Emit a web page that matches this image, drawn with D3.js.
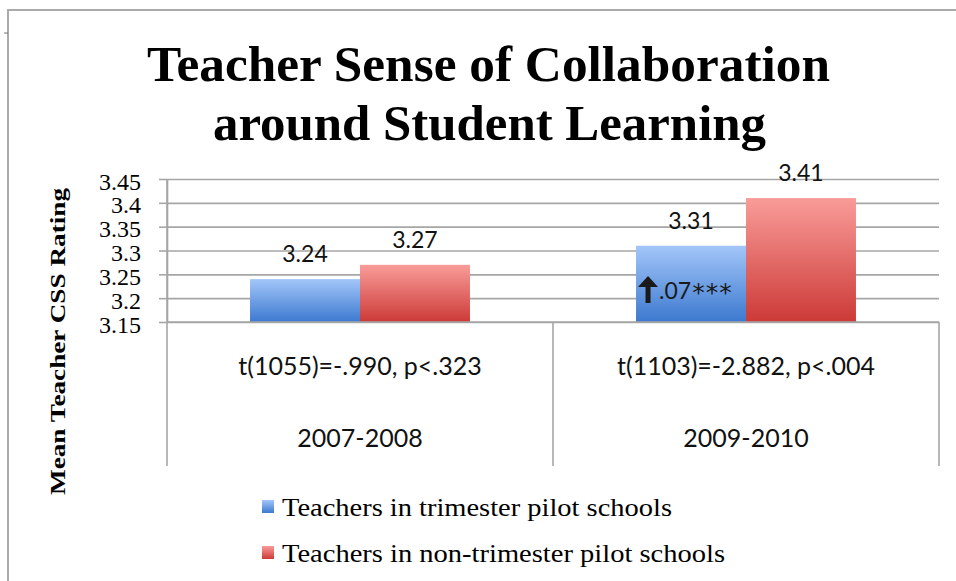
<!DOCTYPE html>
<html>
<head>
<meta charset="utf-8">
<script src="https://cdn.jsdelivr.net/npm/d3@7"></script>
<style>
  body { margin: 0; background: #fff; }
  svg { display: block; }
</style>
</head>
<body>
<svg id="chart" width="956" height="581"></svg>
<script>
const categories = ['2007-2008', '2009-2010']
const seriesNames = ['Teachers in trimester pilot schools', 'Teachers in non-trimester pilot schools']
const trimesterValues = [3.24, 3.31]
const nonTrimesterValues = [3.27, 3.41]
const statLabels = ['t(1055)=-.990, p<.323', 't(1103)=-2.882, p<.004']
const yTicks = [3.15, 3.2, 3.25, 3.3, 3.35, 3.4, 3.45]
const titleLines = ['Teacher Sense of Collaboration', 'around Student Learning']
const yTitle = 'Mean Teacher CSS Rating'
const gainNote = ['.07', '***']

const svg = d3.select('#chart')
const gridColor = '#a6a6a6'
const serif = '"Liberation Serif", "DejaVu Serif", serif'
const sans = 'Lato, "Open Sans", sans-serif'

// gradients for bars / legend swatches
const defs = svg.append('defs')
const gradients = [['blueGrad', '#a3c6f9', '#3c79cf'], ['redGrad', '#f99c99', '#cc3a37']]
gradients.forEach(([id, top, bottom]) => {
    const g = defs.append('linearGradient').attr('id', id)
        .attr('x1', 0).attr('y1', 0).attr('x2', 0).attr('y2', 1)
    g.append('stop').attr('offset', '0%').attr('stop-color', top)
    g.append('stop').attr('offset', '100%').attr('stop-color', bottom)
})
const fills = ['url(#blueGrad)', 'url(#redGrad)']

// outer frame (only top and left visible in the crop)
svg.append('path')
    .attr('d', 'M8,581V10H956')
    .attr('fill', 'none')
    .attr('stroke', '#aaa')
    .attr('stroke-width', 2)
svg.append('line').attr('x1', 4).attr('x2', 8).attr('y1', 33).attr('y2', 33)
    .attr('stroke', '#777').attr('stroke-width', 1)

// title
svg.selectAll('text.title')
    .data(titleLines)
    .join('text')
    .classed('title', true)
    .attr('x', (d, i) => i === 0 ? 488.5 : 489.5)
    .attr('y', (d, i) => 81 + i * 59)
    .attr('text-anchor', 'middle')
    .style('font-family', serif)
    .style('font-weight', 'bold')
    .style('font-size', '50px')
    .attr('textLength', (d, i) => i === 0 ? 683 : 553)
    .attr('lengthAdjust', 'spacingAndGlyphs')
    .text(d => d)

const plotLeft = 167, plotRight = 939, plotTop = 179, plotBottom = 322, tableBottom = 466

const x0 = d3.scaleBand()
    .domain(categories)
    .range([plotLeft, plotRight])
    .padding(0)

const x1 = d3.scaleBand()
    .domain(seriesNames)
    .range([0, x0.bandwidth()])
    .paddingInner(0)
    .paddingOuter(0.755)

const y = d3.scaleLinear()
    .domain([3.15, 3.45])
    .range([plotBottom, plotTop])

// gridlines
svg.append('g')
    .attr('transform', `translate(${plotLeft},0)`)
    .call(d3.axisLeft(y).tickValues(yTicks).tickSize(-(plotRight - plotLeft)).tickFormat(''))
    .call(g => g.select('.domain').remove())
    .call(g => g.selectAll('line').attr('stroke', gridColor).attr('stroke-width', 1.6))

// y axis with ticks and labels
svg.append('g')
    .attr('transform', `translate(${plotLeft},0)`)
    .call(d3.axisLeft(y).tickValues(yTicks).tickSize(8).tickSizeOuter(0).tickPadding(18)
        .tickFormat(d => String(+d.toFixed(2))))
    .call(g => g.select('.domain').attr('stroke', gridColor).attr('stroke-width', 1.6))
    .call(g => g.selectAll('line').attr('stroke', gridColor).attr('stroke-width', 1.6))
    .call(g => g.selectAll('text')
        .style('font-family', serif)
        .style('font-size', '24px')
        .attr('fill', '#000')
        .attr('dy', '0.42em'))

// bars
const rows = categories.map((c, i) => ({
    category: c,
    values: [trimesterValues[i], nonTrimesterValues[i]]
}))

const groups = svg.selectAll('g.cat')
    .data(rows)
    .join('g')
    .classed('cat', true)
    .attr('transform', d => `translate(${x0(d.category)},0)`)

groups.selectAll('rect')
    .data(d => d.values.map((v, j) => ({ series: seriesNames[j], value: v, j })))
    .join('rect')
    .attr('x', d => x1(d.series))
    .attr('y', d => y(d.value))
    .attr('width', x1.bandwidth())
    .attr('height', d => y(3.15) - y(d.value))
    .attr('fill', d => fills[d.j])

groups.selectAll('text.value')
    .data(d => d.values.map((v, j) => ({ series: seriesNames[j], value: v })))
    .join('text')
    .classed('value', true)
    .attr('x', d => x1(d.series) + x1.bandwidth() / 2)
    .attr('y', d => y(d.value) - 17)
    .attr('text-anchor', 'middle')
    .style('font-family', sans)
    .style('font-size', '23px')
    .attr('fill', '#111')
    .text(d => d.value.toFixed(2))

// category table below the plot
const table = svg.append('g')
table.append('line')
    .attr('x1', plotLeft).attr('x2', plotRight)
    .attr('y1', plotBottom).attr('y2', plotBottom)
    .attr('stroke', gridColor).attr('stroke-width', 1.6)
table.selectAll('line.sep')
    .data([plotLeft, x0(categories[1]), plotRight])
    .join('line')
    .classed('sep', true)
    .attr('x1', d => d).attr('x2', d => d)
    .attr('y1', (d, i) => i === 0 ? plotTop : plotBottom)
    .attr('y2', tableBottom)
    .attr('stroke', gridColor).attr('stroke-width', 1.6)

table.selectAll('text.stat')
    .data(statLabels)
    .join('text')
    .classed('stat', true)
    .attr('x', (d, i) => x0(categories[i]) + x0.bandwidth() / 2)
    .attr('y', 375)
    .attr('text-anchor', 'middle')
    .style('font-family', sans)
    .style('font-size', '25px')
    .attr('fill', '#111')
    .text(d => d)

table.selectAll('text.cat')
    .data(categories)
    .join('text')
    .classed('cat', true)
    .attr('x', d => x0(d) + x0.bandwidth() / 2)
    .attr('y', 447)
    .attr('text-anchor', 'middle')
    .style('font-family', sans)
    .style('font-size', '25px')
    .attr('fill', '#111')
    .text(d => d)

// gain annotation inside the 2009-2010 trimester bar
const noteX = x0(categories[1]) + x1(seriesNames[0])
const noteBase = 299
const arrow = d3.path()
arrow.moveTo(noteX + 2, noteBase - 12)
arrow.lineTo(noteX + 12, noteBase - 23)
arrow.lineTo(noteX + 22, noteBase - 12)
arrow.lineTo(noteX + 14.5, noteBase - 12)
arrow.lineTo(noteX + 14.5, noteBase + 4)
arrow.lineTo(noteX + 9.5, noteBase + 4)
arrow.lineTo(noteX + 9.5, noteBase - 12)
arrow.closePath()
svg.append('path').attr('d', arrow.toString()).attr('fill', '#1a1a1a')
const note = svg.append('text')
    .attr('x', noteX + 23)
    .attr('y', noteBase)
    .style('font-family', sans)
    .style('font-size', '23px')
    .attr('fill', '#1a1a1a')
note.append('tspan').text(gainNote[0])
note.append('tspan')
    .attr('dx', 1)
    .attr('dy', 2)
    .style('font-family', '"DejaVu Sans", sans-serif')
    .style('font-size', '25px')
    .style('letter-spacing', '1px')
    .text(gainNote[1])

// y axis title
svg.append('text')
    .attr('transform', `translate(65,${(188 + 495) / 2}) rotate(-90)`)
    .attr('text-anchor', 'middle')
    .style('font-family', serif)
    .style('font-weight', 'bold')
    .style('font-size', '22px')
    .attr('textLength', 307)
    .attr('lengthAdjust', 'spacingAndGlyphs')
    .text(yTitle)

// legend
const legend = svg.selectAll('g.legend')
    .data(seriesNames)
    .join('g')
    .classed('legend', true)
    .attr('transform', (d, i) => `translate(262,${500 + i * 46})`)

legend.append('rect')
    .attr('width', 12).attr('height', 13)
    .attr('fill', (d, i) => fills[i])

legend.append('text')
    .attr('x', 20)
    .attr('y', 16)
    .style('font-family', serif)
    .style('font-size', '25px')
    .attr('fill', '#000')
    .attr('textLength', (d, i) => i === 0 ? 390 : 443)
    .attr('lengthAdjust', 'spacingAndGlyphs')
    .text(d => d)
</script>
</body>
</html>
